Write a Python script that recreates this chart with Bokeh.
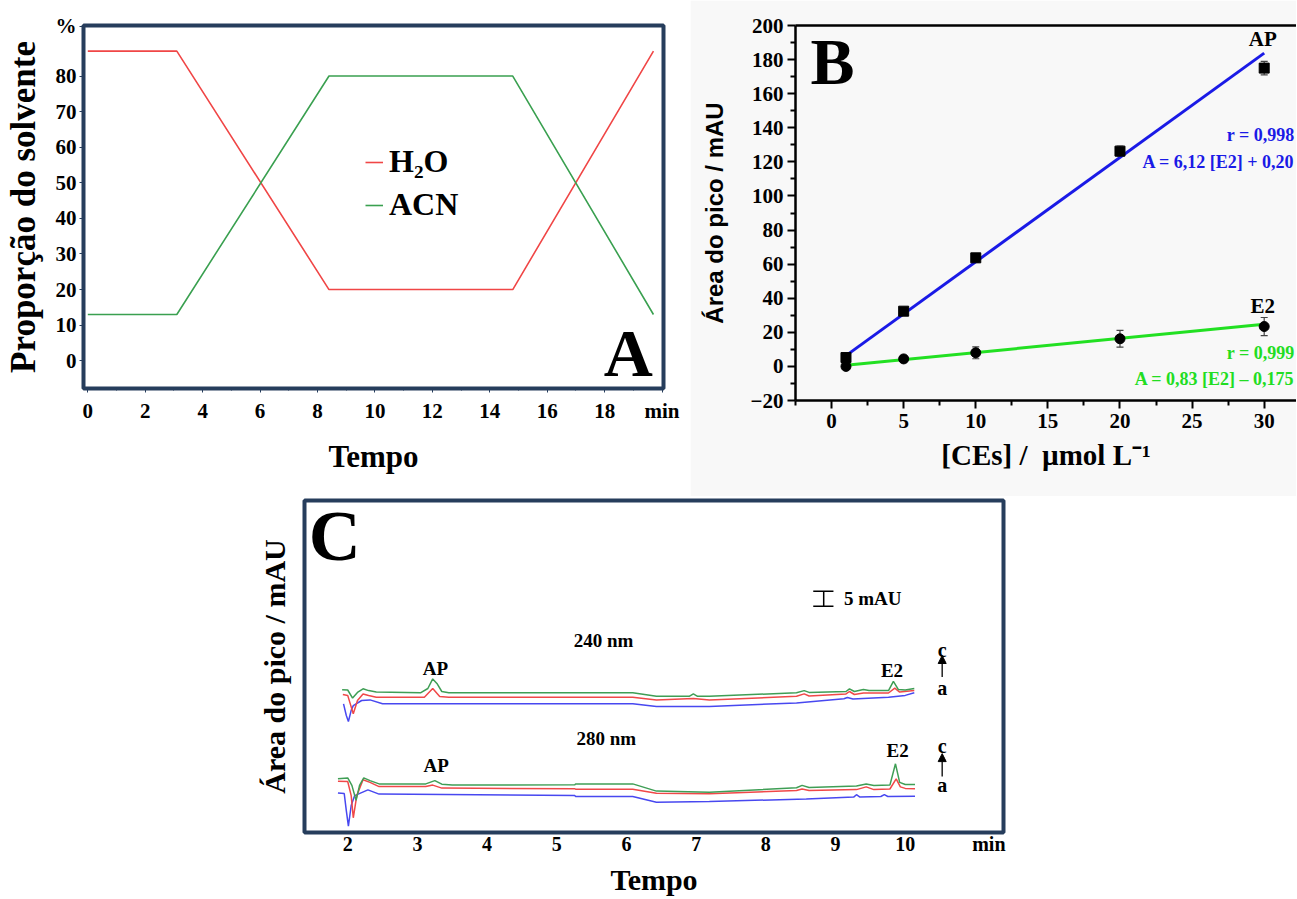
from bokeh.plotting import figure
from bokeh.models import (Range1d, FixedTicker, Label, Legend, LegendItem, LinearAxis,
                          Whisker, TeeHead, Arrow, NormalHead, ColumnDataSource, Spacer)
from bokeh.layouts import column, row
from bokeh.embed import file_html
from bokeh.resources import INLINE

SERIF = "Liberation Serif"
SANS = "Liberation Sans"
NAVY = "#263d5c"

# ---------------- Panel A data: solvent gradient ----------------
grad_time = [0, 3.1, 8.4, 14.8, 19.7]
grad_h2o = [87, 87, 20, 20, 87]
grad_acn = [13, 13, 80, 80, 13]
a_yticks = [0, 10, 20, 30, 40, 50, 60, 70, 80]
a_xticks = [0, 2, 4, 6, 8, 10, 12, 14, 16, 18, 20]

# ---------------- Panel B data: calibration ----------------
conc = [1, 5, 10, 20, 30]
ap_area = [5.2, 32.4, 63.7, 126.3, 175.0]
ap_err = [2.0, 2.0, 2.5, 3.0, 4.0]
e2_area = [0.0, 4.4, 8.0, 16.2, 23.4]
e2_err = [1.5, 2.0, 3.5, 4.9, 5.3]
fit_x = [1, 30]
ap_slope, ap_intercept = 6.12, 0.20
e2_slope, e2_intercept = 0.83, -0.175

# ---------------- Panel C data: chromatograms (mAU, offset) ----------------
t240_c = [1.92, 2.00, 2.07, 2.14, 2.22, 2.30, 2.41, 3.05, 3.15, 3.22, 3.28, 3.35, 3.45, 6.09, 6.43, 6.90,
          6.96, 7.02, 7.19, 8.44, 8.55, 8.62, 9.15, 9.20, 9.27, 9.40, 9.48, 9.76, 9.83, 9.90, 10.00, 10.13]
y240_c = [47.6, 47.5, 44.8, 46.7, 47.9, 47.3, 46.8, 46.6, 48.0, 51.2, 49.7, 47.0, 46.6, 46.6, 45.4, 45.4,
          46.2, 45.4, 45.4, 46.6, 47.3, 46.7, 47.0, 47.9, 47.0, 47.7, 47.3, 47.3, 50.4, 47.7, 47.5, 48.0]
t240_b = [1.93, 2.00, 2.08, 2.14, 2.22, 2.30, 2.41, 3.10, 3.22, 3.32, 3.45, 6.09, 6.43, 6.96, 7.19, 8.44,
          8.55, 8.62, 9.15, 9.20, 9.27, 9.40, 9.76, 9.85, 9.92, 10.13]
y240_b = [46.0, 45.7, 39.6, 44.0, 46.2, 45.7, 45.1, 45.1, 48.0, 45.3, 45.1, 45.1, 44.2, 44.7, 44.2, 45.4,
          46.2, 45.5, 46.2, 47.0, 46.0, 46.5, 46.5, 48.1, 46.8, 47.3]
t240_a = [1.94, 1.98, 2.01, 2.05, 2.08, 2.20, 2.32, 2.50, 6.09, 6.43, 7.19, 8.44, 9.12, 9.17, 9.25, 9.76,
          10.00, 10.13]
y240_a = [42.9, 39.0, 37.0, 40.7, 42.3, 44.0, 44.2, 42.9, 42.9, 42.0, 42.0, 43.2, 44.6, 45.0, 44.5, 45.1,
          45.7, 46.6]
t280_c = [1.86, 2.00, 2.06, 2.12, 2.17, 2.23, 2.32, 2.45, 3.12, 3.25, 3.35, 3.50, 5.26, 5.27, 6.09, 6.43,
          7.19, 8.44, 8.52, 8.62, 9.30, 9.44, 9.55, 9.78, 9.86, 9.92, 10.00, 10.14]
y280_c = [17.9, 18.2, 15.7, 10.7, 15.7, 18.2, 17.3, 16.2, 16.2, 17.3, 16.1, 15.8, 15.9, 16.2, 16.2, 13.8,
          13.4, 14.9, 15.7, 15.0, 15.5, 16.2, 15.7, 15.8, 22.9, 16.7, 16.0, 16.0]
t280_b = [1.86, 2.00, 2.05, 2.08, 2.13, 2.22, 2.32, 2.45, 3.12, 3.22, 3.35, 5.26, 5.27, 6.09, 6.43, 7.19,
          8.44, 8.52, 8.62, 9.30, 9.44, 9.55, 9.78, 9.87, 9.93, 10.00, 10.14]
y280_b = [17.1, 17.0, 12.3, 4.9, 12.3, 17.6, 16.7, 15.3, 15.3, 15.8, 14.8, 14.6, 14.4, 14.4, 13.1, 12.9,
          14.0, 14.5, 14.0, 14.3, 15.2, 14.3, 14.5, 17.9, 15.2, 14.7, 14.6]
t280_a = [1.86, 1.95, 1.98, 2.01, 2.05, 2.10, 2.29, 2.45, 5.26, 5.27, 6.09, 6.43, 7.19, 8.58, 9.26, 9.30,
          9.35, 9.65, 9.70, 9.75, 10.14]
y280_a = [13.2, 13.0, 7.3, 2.1, 9.0, 12.3, 14.2, 12.8, 12.3, 12.0, 12.0, 10.1, 10.3, 11.2, 11.8, 12.6,
          11.8, 12.0, 12.6, 12.0, 12.1]
c_xticks = [2, 3, 4, 5, 6, 7, 8, 9, 10]
scale_bar_mAU = 5

GREEN_C = "#3f9e55"
RED_C = "#f04848"
BLUE_C = "#4848f0"


def style_axis(ax, size="21px"):
    ax.major_label_text_font = SERIF
    ax.major_label_text_font_style = "bold"
    ax.major_label_text_font_size = size
    ax.major_label_text_color = "black"
    ax.axis_label_text_font = SERIF
    ax.axis_label_text_font_style = "bold"
    ax.axis_label_text_color = "black"


def lab(p, x, y, text, size, align="center", baseline="middle", color="black"):
    p.add_layout(Label(x=x, y=y, text=text, text_font=SERIF, text_font_style="bold",
                       text_font_size=size, text_align=align, text_baseline=baseline,
                       text_color=color))


# ================= Panel A =================
pA = figure(width=690, height=484, x_range=Range1d(-0.15, 20.05), y_range=Range1d(-7.8, 94.2),
            output_backend="svg", toolbar_location=None,
            min_border_left=83, min_border_right=27, min_border_top=21, min_border_bottom=96)
pA.grid.visible = False
pA.outline_line_color = NAVY
pA.outline_line_width = 4
rA = pA.line(grad_time, grad_h2o, line_color="#f04646", line_width=1.6)
gA = pA.line(grad_time, grad_acn, line_color="#3aa050", line_width=1.6)

xa = pA.xaxis[0]
xa.ticker = FixedTicker(ticks=a_xticks, minor_ticks=[1, 3, 5, 7, 9, 11, 13, 15, 17, 19])
xa.major_label_overrides = {20: "min"}
style_axis(xa)
xa.axis_line_color = None
xa.major_tick_out = 4
xa.major_tick_in = 0
xa.minor_tick_out = 2
xa.minor_tick_in = 0
xa.major_tick_line_color = NAVY
xa.minor_tick_line_color = NAVY
xa.major_label_standoff = 6
xa.axis_label = "Tempo"
xa.axis_label_text_font_size = "31px"
xa.axis_label_standoff = 13

ya = pA.yaxis[0]
ya.ticker = FixedTicker(ticks=a_yticks + [94])
ya.major_label_overrides = {94: "%"}
style_axis(ya)
ya.axis_line_color = None
ya.major_tick_out = 4
ya.major_tick_in = 0
ya.minor_tick_line_color = None
ya.major_tick_line_color = NAVY
ya.major_label_standoff = 3
ya.axis_label = "Proporção do solvente"
ya.axis_label_text_font_size = "35px"
ya.axis_label_standoff = 10

legA = Legend(items=[LegendItem(label="H₂O", renderers=[rA]), LegendItem(label="ACN", renderers=[gA])],
              location=(282, 165), label_text_font=SERIF, label_text_font_style="bold",
              label_text_font_size="32px", label_text_color="black", glyph_width=18, glyph_height=20,
              label_standoff=6, spacing=6, padding=0, margin=0, border_line_color=None,
              background_fill_alpha=0)
pA.add_layout(legA)
lab(pA, 19.68, 2.3, "A", "68px", align="right", baseline="alphabetic")

# ================= Panel B =================
BG = "#f8f8f8"
pB = figure(width=606, height=496, x_range=Range1d(-2.5, 32.24), y_range=Range1d(-20, 200),
            output_backend="svg", toolbar_location=None,
            min_border_left=105, min_border_right=0, min_border_top=25, min_border_bottom=96,
            background_fill_color=BG, border_fill_color=BG)
pB.grid.visible = False
pB.outline_line_color = None

fit_ap = [ap_slope * x + ap_intercept for x in fit_x]
fit_e2 = [e2_slope * x + e2_intercept for x in fit_x]
pB.line(fit_x, fit_ap, line_color="#1a1ae6", line_width=3)
pB.line(fit_x, fit_e2, line_color="#22e022", line_width=3)

src_ap = ColumnDataSource(dict(x=conc, y=ap_area,
                               upper=[v + e for v, e in zip(ap_area, ap_err)],
                               lower=[v - e for v, e in zip(ap_area, ap_err)]))
src_e2 = ColumnDataSource(dict(x=conc, y=e2_area,
                               upper=[v + e for v, e in zip(e2_area, e2_err)],
                               lower=[v - e for v, e in zip(e2_area, e2_err)]))
for s in (src_ap, src_e2):
    pB.add_layout(Whisker(source=s, base="x", upper="upper", lower="lower", dimension="height",
                          line_color="#444444", line_width=1.2,
                          upper_head=TeeHead(size=7, line_color="#444444", line_width=1.2),
                          lower_head=TeeHead(size=7, line_color="#444444", line_width=1.2)))
pB.scatter("x", "y", source=src_ap, marker="square", size=10, color="black")
pB.scatter("x", "y", source=src_e2, marker="circle", size=10, color="black")

xb = pB.xaxis[0]
xb.ticker = FixedTicker(ticks=[0, 5, 10, 15, 20, 25, 30],
                        minor_ticks=[-2.5, 2.5, 7.5, 12.5, 17.5, 22.5, 27.5])
style_axis(xb)
xb.axis_line_width = 2.5
xb.axis_line_color = "black"
xb.major_tick_out = 8
xb.major_tick_in = 0
xb.minor_tick_out = 5
xb.minor_tick_in = 0
xb.major_tick_line_width = 2
xb.minor_tick_line_width = 2
xb.major_label_standoff = 5
xb.axis_label = "[CEs] /\u00a0\u00a0µmol L⁻¹"
xb.axis_label_text_font_size = "29px"
xb.axis_label_standoff = 8

yb = pB.yaxis[0]
yb.ticker = FixedTicker(ticks=list(range(-20, 201, 20)), minor_ticks=list(range(-10, 200, 20)))
style_axis(yb)
yb.axis_line_width = 2.5
yb.axis_line_color = "black"
yb.major_tick_out = 8
yb.major_tick_in = 0
yb.minor_tick_out = 5
yb.minor_tick_in = 0
yb.major_tick_line_width = 2
yb.minor_tick_line_width = 2
yb.major_label_standoff = 4
yb.axis_label = "Área do pico / mAU"
yb.axis_label_text_font = SANS
yb.axis_label_text_font_size = "24px"
yb.axis_label_standoff = 20

top_ax = LinearAxis(ticker=FixedTicker(ticks=[]), axis_line_width=2.5, axis_line_color="black",
                    major_tick_line_color=None, minor_tick_line_color=None)
pB.add_layout(top_ax, "above")

lab(pB, -1.46, 178.9, "B", "66px", align="left", baseline="alphabetic")
lab(pB, 29.9, 192.2, "AP", "21px")
lab(pB, 29.9, 35.7, "E2", "21px")
for (yy, txt, col) in [(135.5, "r = 0,998", "#1a1ae6"), (119.8, "A = 6,12 [E2] + 0,20", "#1a1ae6"),
                       (7.8, "r = 0,999", "#22dd22"), (-7.3, "A = 0,83 [E2] – 0,175", "#22dd22")]:
    lab(pB, 32.1, yy, txt, "18px", align="right", color=col)

# ================= Panel C =================
pC = figure(width=783, height=402, x_range=Range1d(1.38, 11.41), y_range=Range1d(0, 110.67),
            output_backend="svg", toolbar_location=None,
            min_border_left=64, min_border_right=20, min_border_top=4, min_border_bottom=66)
pC.grid.visible = False
pC.outline_line_color = NAVY
pC.outline_line_width = 4

for t, y, col in [(t240_a, y240_a, BLUE_C), (t240_b, y240_b, RED_C), (t240_c, y240_c, GREEN_C),
                  (t280_a, y280_a, BLUE_C), (t280_b, y280_b, RED_C), (t280_c, y280_c, GREEN_C)]:
    pC.line(t, y, line_color=col, line_width=1.5)

xc = pC.xaxis[0]
xc.ticker = FixedTicker(ticks=c_xticks + [11.2])
xc.major_label_overrides = {11.2: "min"}
style_axis(xc, "20px")
xc.axis_line_color = None
xc.major_tick_line_color = None
xc.minor_tick_line_color = None
xc.major_tick_out = 0
xc.major_tick_in = 0
xc.major_label_standoff = 0
xc.axis_label = "Tempo"
xc.axis_label_text_font_size = "30px"
xc.axis_label_standoff = 5

yc = pC.yaxis[0]
yc.ticker = FixedTicker(ticks=[])
style_axis(yc)
yc.axis_line_color = None
yc.major_tick_line_color = None
yc.minor_tick_line_color = None
yc.axis_label = "Área do pico / mAU"
yc.axis_label_text_font_size = "30px"
yc.axis_label_standoff = 14

lab(pC, 1.44, 98.7, "C", "72px", align="left", baseline="alphabetic")

# scale bar (5 mAU)
pC.segment(x0=[8.83], y0=[75.4], x1=[8.83], y1=[75.4 + scale_bar_mAU], line_color="black", line_width=1.5)
pC.segment(x0=[8.68, 8.68], y0=[75.4, 75.4 + scale_bar_mAU], x1=[8.97, 8.97],
           y1=[75.4, 75.4 + scale_bar_mAU], line_color="black", line_width=1.5)
lab(pC, 9.12, 77.9, f"{scale_bar_mAU} mAU", "19px", align="left")

for (xx, yy, txt) in [(5.67, 64.0, "240 nm"), (5.71, 31.3, "280 nm"), (3.26, 54.7, "AP"),
                      (3.27, 22.3, "AP"), (9.81, 54.0, "E2"), (9.89, 27.3, "E2")]:
    lab(pC, xx, yy, txt, "19px")

for (yc_c, yc_a, y0, y1) in [(60.9, 48.1, 51.8, 59.0), (29.0, 16.0, 18.7, 26.3)]:
    lab(pC, 10.53, yc_c, "c", "20px")
    lab(pC, 10.53, yc_a, "a", "20px")
    pC.add_layout(Arrow(x_start=10.53, y_start=y0, x_end=10.53, y_end=y1, line_width=1.3,
                        end=NormalHead(size=8, fill_color="black", line_color="black")))

layout = column(row(pA, pB), row(Spacer(width=240, height=402), pC))
open("out.html", "w").write(file_html(layout, INLINE))
